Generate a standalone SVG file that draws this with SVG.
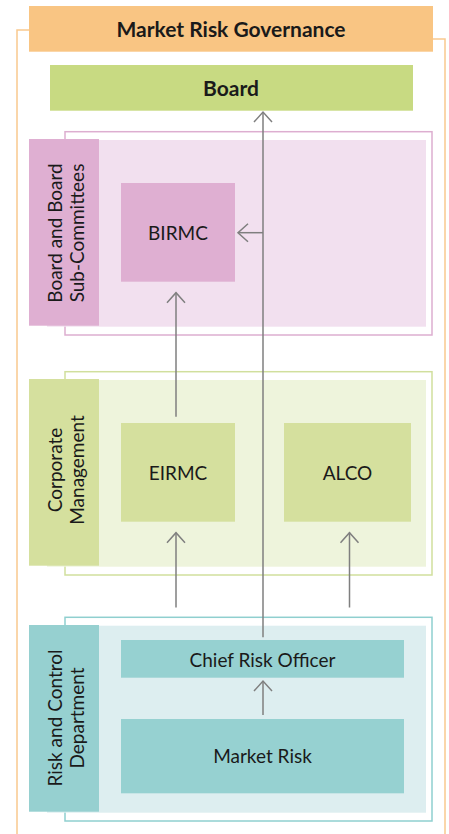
<svg xmlns="http://www.w3.org/2000/svg" width="449" height="834" viewBox="0 0 449 834">
<style>
text{font-family:Lato,"Open Sans","Liberation Sans",sans-serif;fill:#1a1a1a;font-size:19px;text-anchor:middle}
.b{font-weight:bold;font-size:21px}
.conn line,.conn polyline{stroke:#7f7f7f;stroke-width:1.5;fill:none}
</style>
<rect width="449" height="834" fill="#ffffff"/>
<g id="frame" fill="none" stroke="#F9C98E" stroke-width="1.5">
<polyline points="29,30 17,30 17,840"/>
<polyline points="433,39 445,39 445,840"/>
</g>
<g id="title"><rect x="29" y="6" width="404" height="45.7" fill="#F9C583"/><text class="b" x="231" y="37">Market Risk Governance</text></g>
<g id="board"><rect x="50" y="65" width="363" height="45.7" fill="#C8DA82"/><text class="b" x="231" y="96">Board</text></g>

<g id="sec-board">
<rect x="65" y="131.7" width="367" height="203.3" fill="none" stroke="#DDAED0" stroke-width="1.5"/>
<rect x="47" y="140" width="379" height="186.7" fill="#F2E0EF"/>
<rect x="29" y="139" width="70" height="186.7" fill="#DFAFD2"/>
<text transform="translate(64,233) rotate(-90)"><tspan x="0" y="-2.5">Board and Board</tspan><tspan x="0" y="19.5">Sub-Committees</tspan></text>
</g>
<g id="birmc"><rect x="121" y="183" width="114" height="98.7" fill="#DFAFD2"/><text x="178" y="240">BIRMC</text></g>

<g id="sec-corp">
<rect x="65" y="371.7" width="367" height="203.3" fill="none" stroke="#D1DF9D" stroke-width="1.5"/>
<rect x="47" y="380" width="379" height="186.7" fill="#EEF4DC"/>
<rect x="29" y="379" width="70" height="186.7" fill="#D5E09E"/>
<text transform="translate(64,470) rotate(-90)"><tspan x="0" y="-2.5">Corporate</tspan><tspan x="0" y="19.5">Management</tspan></text>
</g>
<g id="eirmc"><rect x="121" y="423" width="114" height="98.7" fill="#D5E09E"/><text x="178" y="480">EIRMC</text></g>
<g id="alco"><rect x="284" y="423" width="127" height="98.7" fill="#D5E09E"/><text x="347.5" y="480">ALCO</text></g>

<g id="sec-risk">
<rect x="65" y="617.3" width="367" height="203.7" fill="none" stroke="#8FCFCF" stroke-width="1.5"/>
<rect x="47" y="625.7" width="379" height="187" fill="#DDEEF0"/>
<rect x="29" y="625" width="70" height="186.7" fill="#96D0D0"/>
<text transform="translate(64,718) rotate(-90)"><tspan x="0" y="-2.5">Risk and Control</tspan><tspan x="0" y="19.5">Department</tspan></text>
</g>
<g id="cro"><rect x="121" y="640" width="283" height="37.7" fill="#96D1D1"/><text x="262.5" y="666.5">Chief Risk Officer</text></g>
<g id="market"><rect x="121" y="719" width="283" height="74.3" fill="#96D1D1"/><text x="262.5" y="763.3">Market Risk</text></g>

<g id="connectors" class="conn">
<line x1="263" y1="637.3" x2="263" y2="112"/><polyline points="254,122 263,112 272,122"/>
<line x1="263" y1="232.7" x2="238" y2="232.7"/><polyline points="248,223.7 238,232.7 248,241.7"/>
<line x1="176" y1="416.7" x2="176" y2="292.7"/><polyline points="167,302.7 176,292.7 185,302.7"/>
<line x1="176" y1="607.5" x2="176" y2="532.7"/><polyline points="167,542.7 176,532.7 185,542.7"/>
<line x1="349.5" y1="607.5" x2="349.5" y2="532.7"/><polyline points="340.5,542.7 349.5,532.7 358.5,542.7"/>
<line x1="263" y1="715" x2="263" y2="681"/><polyline points="254,691 263,681 272,691"/>
</g>
</svg>
